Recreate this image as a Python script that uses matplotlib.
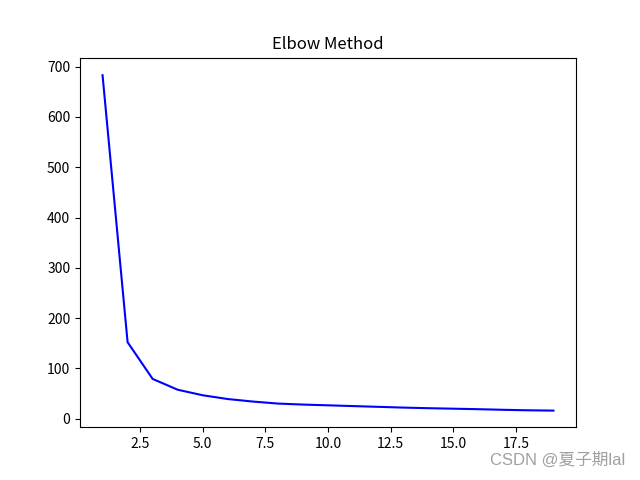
import matplotlib

matplotlib.use("Agg")
import matplotlib.pyplot as plt

plt.rcParams["font.family"] = ["Noto Sans CJK SC", "DejaVu Sans"]
plt.rcParams["axes.unicode_minus"] = False

# number of clusters vs. within-cluster sum of squares
k_values = list(range(1, 20))
sse = [683, 152, 79, 57.5, 46.5, 39, 34, 30, 28, 26.5,
       25, 23.5, 22, 20.8, 19.8, 18.8, 17.6, 16.6, 16]

fig, ax = plt.subplots(figsize=(6.4, 4.8), dpi=100)
ax.plot(k_values, sse, color="blue")
ax.set_title("Elbow Method")
ax.set_ylim(-17, 718)

fig.text(0.977, 0.026, "CSDN @夏子期lal", ha="right", va="bottom",
         color="#a0a0a0", fontsize=12,
         family=["Liberation Sans", "Noto Sans CJK SC"])

fig.savefig("out.png", dpi=100)
plt.close(fig)
